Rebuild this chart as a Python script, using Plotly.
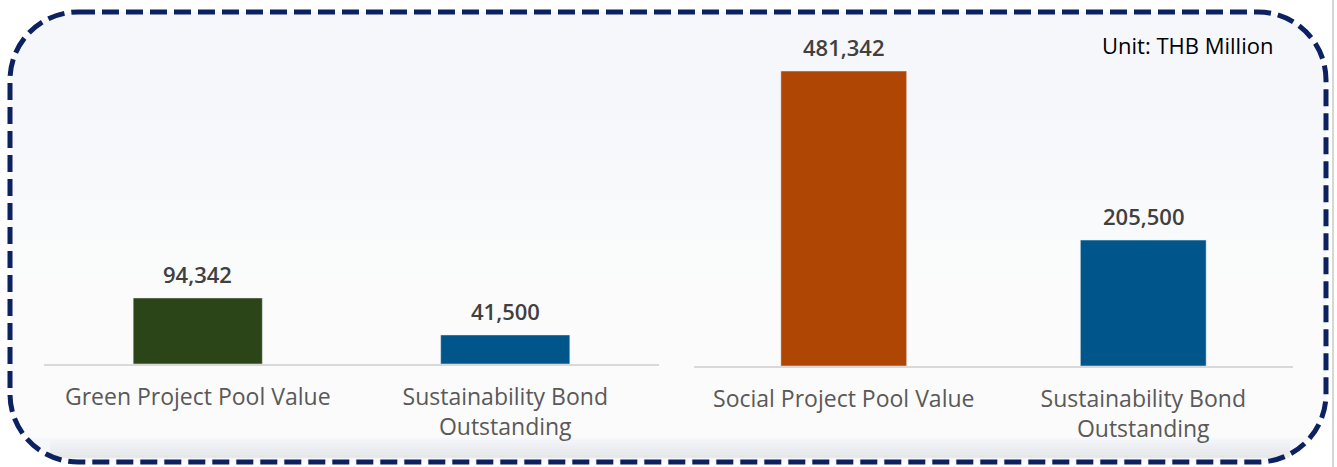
import plotly.graph_objects as go

# ---- data ----
left_categories = ["Green Project Pool Value", "Sustainability Bond<br>Outstanding"]
left_values = [94342, 41500]
right_categories = ["Social Project Pool Value", "Sustainability Bond<br>Outstanding"]
right_values = [481342, 205500]
unit_label = "Unit: THB Million"

left_colors = ["#2b4519", "#00568a"]
right_colors = ["#b04604", "#00568a"]

W, H = 1337, 467
FONT = "Open Sans"


def px(x):
    return x / W


def py(y):
    return 1 - y / H


fig = go.Figure()

fig.add_trace(go.Bar(x=left_categories, y=left_values, marker_color=left_colors,
                     width=0.42, xaxis="x", yaxis="y", hoverinfo="skip"))
fig.add_trace(go.Bar(x=right_categories, y=right_values, marker_color=right_colors,
                     width=0.42, xaxis="x2", yaxis="y2", hoverinfo="skip"))

# value labels
for cats, vals, xr, yr in [(left_categories, left_values, "x", "y"),
                           (right_categories, right_values, "x2", "y2")]:
    for c, v in zip(cats, vals):
        fig.add_annotation(x=c, y=v, xref=xr, yref=yr, text=f"{v:,}",
                           showarrow=False, yanchor="bottom", yshift=7,
                           font=dict(family=FONT, size=22, color="#404040", weight=600))

fig.add_annotation(x=px(1275), y=py(45), xref="paper", yref="paper", text=unit_label,
                   showarrow=False, xanchor="right", yanchor="middle",
                   font=dict(family=FONT, size=22, color="#000000"))

# rounded dashed frame
x0, y0, x1, y1 = 10, 12, 1326, 462
r = 68
k = 0.5523 * r


def P(x, y):
    return f"{px(x):.5f},{py(y):.5f}"


path = (f"M {P(x0 + r, y0)} L {P(x1 - r, y0)} "
        f"C {P(x1 - r + k, y0)} {P(x1, y0 + r - k)} {P(x1, y0 + r)} "
        f"L {P(x1, y1 - r)} "
        f"C {P(x1, y1 - r + k)} {P(x1 - r + k, y1)} {P(x1 - r, y1)} "
        f"L {P(x0 + r, y1)} "
        f"C {P(x0 + r - k, y1)} {P(x0, y1 - r + k)} {P(x0, y1 - r)} "
        f"L {P(x0, y0 + r)} "
        f"C {P(x0, y0 + r - k)} {P(x0 + r - k, y0)} {P(x0 + r, y0)} Z")

shapes = [dict(type="path", path=path, xref="paper", yref="paper",
               fillcolor="#f6f7fb", line=dict(width=0), layer="below")]
# soft fade to white towards the bottom
for yy in range(120, 380, 40):
    shapes.append(dict(type="rect", xref="paper", yref="paper",
                       x0=px(14), x1=px(1322), y0=py(438), y1=py(yy),
                       fillcolor="#ffffff", opacity=0.18, line=dict(width=0), layer="below"))
# subtle shadow band near the bottom
for yy in range(440, 458, 3):
    shapes.append(dict(type="rect", xref="paper", yref="paper",
                       x0=px(50), x1=px(1290), y0=py(458), y1=py(yy),
                       fillcolor="#cfcfcf", opacity=0.06, line=dict(width=0), layer="below"))
# window edge line at the right
shapes.append(dict(type="line", xref="paper", yref="paper",
                   x0=px(1333), x1=px(1333), y0=0, y1=1,
                   line=dict(color="#d6d6d6", width=2), layer="below"))
shapes.append(dict(type="path", path=path, xref="paper", yref="paper",
                   line=dict(color="#0b2160", width=5, dash="17px,7px"), layer="above"))

axis_common = dict(showline=True, linecolor="#d9d9d9", linewidth=2, showgrid=False,
                   zeroline=False, ticks="outside", ticklen=11, tickcolor="rgba(0,0,0,0)",
                   tickfont=dict(family=FONT, size=23, color="#595959"), fixedrange=True)

fig.update_layout(
    width=W, height=H, autosize=False,
    margin=dict(l=0, r=0, t=0, b=0),
    paper_bgcolor="#ffffff", plot_bgcolor="rgba(0,0,0,0)",
    showlegend=False,
    shapes=shapes,
    xaxis=dict(domain=[px(44), px(659)], anchor="y", **axis_common),
    xaxis2=dict(domain=[px(694), px(1293)], anchor="y2", **axis_common),
    yaxis=dict(domain=[py(364), py(40)], range=[0, 463000], visible=False, fixedrange=True),
    yaxis2=dict(domain=[py(366), py(40)], range=[0, 532000], visible=False, fixedrange=True, anchor="x2"),
)

fig.write_html("out.html", config={"displayModeBar": False},
               post_script="document.body.style.margin='0';document.body.style.overflow='hidden';")
